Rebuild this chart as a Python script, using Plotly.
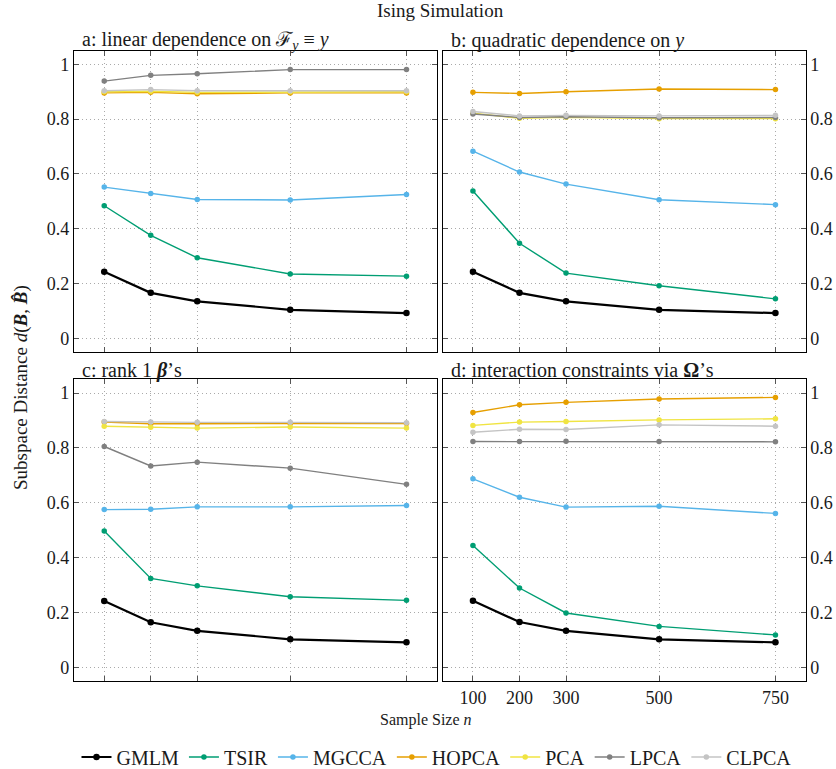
import plotly.graph_objects as go

sample_sizes = [100, 200, 300, 500, 750]
methods = ["GMLM", "TSIR", "MGCCA", "HOPCA", "PCA", "LPCA", "CLPCA"]
colors = ["#000000", "#009E73", "#56B4E9", "#E69F00", "#F0E442", "#808080", "#C4C4C4"]

# panel a: linear dependence
a_GMLM = [0.243, 0.166, 0.135, 0.104, 0.092]
a_TSIR = [0.484, 0.376, 0.294, 0.235, 0.227]
a_MGCCA = [0.552, 0.529, 0.507, 0.505, 0.525]
a_HOPCA = [0.896, 0.898, 0.893, 0.896, 0.896]
a_PCA = [0.900, 0.902, 0.898, 0.900, 0.900]
a_LPCA = [0.939, 0.960, 0.966, 0.981, 0.981]
a_CLPCA = [0.904, 0.908, 0.904, 0.904, 0.904]

# panel b: quadratic dependence
b_GMLM = [0.243, 0.166, 0.135, 0.104, 0.092]
b_TSIR = [0.538, 0.347, 0.238, 0.192, 0.144]
b_MGCCA = [0.683, 0.607, 0.563, 0.506, 0.488]
b_HOPCA = [0.898, 0.894, 0.900, 0.910, 0.908]
b_PCA = [0.822, 0.803, 0.807, 0.802, 0.802]
b_LPCA = [0.819, 0.806, 0.809, 0.805, 0.806]
b_CLPCA = [0.828, 0.812, 0.814, 0.812, 0.814]

# panel c: rank 1 betas
c_GMLM = [0.242, 0.164, 0.133, 0.102, 0.091]
c_TSIR = [0.497, 0.324, 0.297, 0.257, 0.244]
c_MGCCA = [0.575, 0.576, 0.585, 0.585, 0.590]
c_HOPCA = [0.894, 0.888, 0.888, 0.889, 0.889]
c_PCA = [0.879, 0.875, 0.872, 0.876, 0.872]
c_LPCA = [0.805, 0.734, 0.748, 0.726, 0.667]
c_CLPCA = [0.896, 0.894, 0.893, 0.893, 0.892]

# panel d: interaction constraints
d_GMLM = [0.243, 0.165, 0.133, 0.102, 0.091]
d_TSIR = [0.444, 0.289, 0.198, 0.149, 0.118]
d_MGCCA = [0.687, 0.620, 0.584, 0.587, 0.561]
d_HOPCA = [0.929, 0.957, 0.966, 0.978, 0.984]
d_PCA = [0.882, 0.894, 0.896, 0.902, 0.906]
d_LPCA = [0.823, 0.823, 0.824, 0.823, 0.822]
d_CLPCA = [0.857, 0.868, 0.867, 0.884, 0.879]

panels = [
    [a_GMLM, a_TSIR, a_MGCCA, a_HOPCA, a_PCA, a_LPCA, a_CLPCA],
    [b_GMLM, b_TSIR, b_MGCCA, b_HOPCA, b_PCA, b_LPCA, b_CLPCA],
    [c_GMLM, c_TSIR, c_MGCCA, c_HOPCA, c_PCA, c_LPCA, c_CLPCA],
    [d_GMLM, d_TSIR, d_MGCCA, d_HOPCA, d_PCA, d_LPCA, d_CLPCA],
]
panel_titles = [
    "a: linear dependence on ℱ<sub><i>y</i></sub> ≡ <i>y</i>",
    "b: quadratic dependence on <i>y</i>",
    "c: rank 1 <b><i>β</i></b>’s",
    "d: interaction constraints via <b>Ω</b>’s",
]
y_ticks = [0, 0.2, 0.4, 0.6, 0.8, 1]
y_ticktext = ["0", "0.2", "0.4", "0.6", "0.8", "1"]

W, H = 836, 769
FONT = "Liberation Serif"
TXT = "#1a1a1a"

xdom = [[74 / W, 436.7 / W], [442.7 / W, 805.7 / W]]
ydom = [[1 - 352 / H, 1 - 50.7 / H], [1 - 681 / H, 1 - 379.3 / H]]

fig = go.Figure()
for p, data in enumerate(panels):
    ax = "" if p == 0 else str(p + 1)
    for i, (name, col) in enumerate(zip(methods, colors)):
        lw = 2.2 if name == "GMLM" else 1.4
        ms = 6.5 if name == "GMLM" else 5.5
        fig.add_trace(go.Scatter(
            x=sample_sizes, y=data[i], mode="lines+markers", name=name,
            line=dict(color=col, width=lw), marker=dict(color=col, size=ms),
            xaxis="x" + ax, yaxis="y" + ax, showlegend=(p == 0),
            legendgroup=name,
        ))

layout = dict(
    width=W, height=H, margin=dict(l=0, r=0, t=0, b=0, autoexpand=False),
    paper_bgcolor="white", plot_bgcolor="white",
    font=dict(family=FONT, size=18, color=TXT),
    showlegend=True,
    legend=dict(orientation="h", x=436.5 / W, xanchor="center", y=1 - 757 / H, yanchor="middle",
                font=dict(size=20, family=FONT, color=TXT), itemwidth=30, tracegroupgap=0,
                bgcolor="rgba(0,0,0,0)"),
)
for p in range(4):
    col = p % 2
    row = p // 2
    ax = "" if p == 0 else str(p + 1)
    common = dict(
        ticks="inside", ticklen=5, tickcolor="#555555", tickwidth=1,
        showline=True, linecolor="black", linewidth=1.1, mirror="allticks",
        showgrid=True, gridcolor="#aaaaaa", griddash="1px,3px", gridwidth=1,
        zeroline=False, tickfont=dict(size=18, family=FONT, color=TXT), automargin=False,
    )
    layout["xaxis" + ax] = dict(
        domain=xdom[col], anchor="y" + ax, range=[35, 815],
        tickvals=sample_sizes, ticktext=[str(v) for v in sample_sizes],
        showticklabels=(p == 3), **common,
    )
    layout["yaxis" + ax] = dict(
        domain=ydom[row], anchor="x" + ax, range=[-0.05, 1.05],
        tickvals=y_ticks, ticktext=y_ticktext, side="left" if col == 0 else "right",
        **common,
    )
fig.update_layout(**layout)

title_pos = [(80, 41), (449, 41), (80, 370), (449, 370)]
annotations = []
for t, (x, y) in zip(panel_titles, title_pos):
    annotations.append(dict(text=t, x=x / W, y=1 - y / H, xref="paper", yref="paper",
                            xanchor="left", yanchor="middle", showarrow=False,
                            font=dict(size=20, family=FONT, color=TXT)))
annotations.append(dict(text="Ising Simulation", x=440 / W, y=1 - 11 / H, xref="paper", yref="paper",
                        xanchor="center", yanchor="middle", showarrow=False,
                        font=dict(size=19, family=FONT, color=TXT)))
annotations.append(dict(text="Sample Size <i>n</i>", x=426 / W, y=1 - 720 / H, xref="paper", yref="paper",
                        xanchor="center", yanchor="middle", showarrow=False,
                        font=dict(size=16, family=FONT, color=TXT)))
annotations.append(dict(text="Subspace Distance <i>d</i>(<b><i>B</i></b>, <b><i>B̂</i></b>)",
                        x=21 / W, y=1 - 388 / H, xref="paper", yref="paper", textangle=-90,
                        xanchor="center", yanchor="middle", showarrow=False,
                        font=dict(size=19, family=FONT, color=TXT)))
fig.update_layout(annotations=annotations)

fig.write_html("out.html", config={"displayModeBar": False},
               post_script="document.body.style.margin='0px';document.body.style.overflow='hidden';")
